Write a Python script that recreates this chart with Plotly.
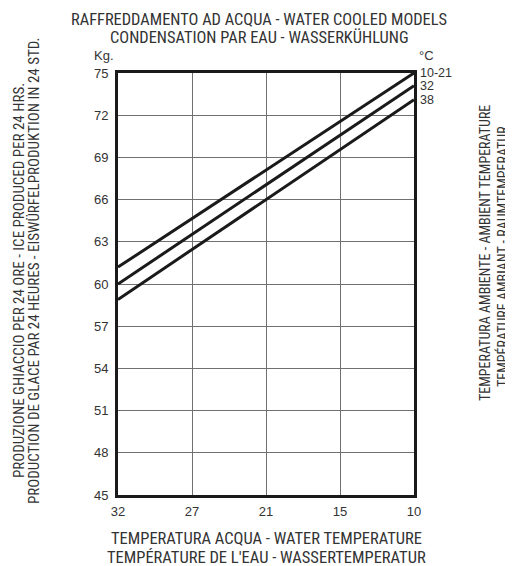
import plotly.graph_objects as go

# water temperature (°C), equally spaced on the chart, reading left to right
water_temp_labels = ["32", "27", "21", "15", "10"]
water_temp_pos = [0, 1, 2, 3, 4]

# ice production (kg / 24h) at the ends of each line (water 32 -> water 10)
line_x = [0, 4]
ice_10_21 = [61.2, 75.0]
ice_32 = [60.0, 74.1]
ice_38 = [58.9, 73.1]

ambient_labels = ["10-21", "32", "38"]
y_ticks = [45, 48, 51, 54, 57, 60, 63, 66, 69, 72, 75]

narrow = "Liberation Sans Narrow, Roboto Condensed, DejaVu Sans Condensed, Arial Narrow, Liberation Sans, sans-serif"
regular = "Liberation Sans, Arial, sans-serif"

# page body has an 8px margin, so the figure is a bit smaller than the window
L, R, T, B, W, H = 110, 99, 65, 71, 505, 558
PW, PH = W - L - R, H - T - B


def px(x):
    return (x - L) / PW


def py(y):
    return 1 - (y - T) / PH


fig = go.Figure()
for ys, name in zip([ice_10_21, ice_32, ice_38], ambient_labels):
    fig.add_scatter(x=line_x, y=ys, mode="lines", name=name,
                    line=dict(color="#1a1a1a", width=3), showlegend=False)
    fig.add_annotation(x=line_x[-1], y=ys[-1], text=name, showarrow=False,
                       xanchor="left", yanchor="middle", xshift=4,
                       font=dict(family=regular, size=12.5, color="#333"))

fig.update_xaxes(range=[0, 4], tickvals=water_temp_pos, ticktext=water_temp_labels,
                 showgrid=True, gridcolor="#707070", gridwidth=1,
                 showline=True, linecolor="#1a1a1a", linewidth=3, mirror=True,
                 zeroline=False, ticks="", ticklabelstandoff=2,
                 tickfont=dict(family=regular, size=13, color="#333"))
fig.update_yaxes(range=[45, 75], tickvals=y_ticks,
                 showgrid=True, gridcolor="#707070", gridwidth=1,
                 showline=True, linecolor="#1a1a1a", linewidth=3, mirror=True,
                 zeroline=False, ticks="", ticklabelstandoff=4,
                 tickfont=dict(family=regular, size=13, color="#333"))

title_font = dict(family=narrow, size=16.4, color="#333")
bottom_font = dict(family=narrow, size=16.5, color="#333")
left_font = dict(family=narrow, size=15, color="#333")
right_font = dict(family=narrow, size=14, color="#333")

texts = [
    (251, 11, 0, "RAFFREDDAMENTO AD ACQUA - WATER COOLED MODELS", title_font),
    (251, 29, 0, "CONDENSATION PAR EAU - WASSERKÜHLUNG", title_font),
    (258, 530, 0, "TEMPERATURA ACQUA - WATER TEMPERATURE", bottom_font),
    (258, 549, 0, "TEMPÉRATURE DE L'EAU - WASSERTEMPERATUR", bottom_font),
    (96, 48, 0, "Kg.", dict(family=regular, size=13, color="#333")),
    (418, 48, 0, "°C", dict(family=regular, size=13, color="#333")),
    (11, 273, -90, "PRODUZIONE GHIACCIO PER 24 ORE - ICE PRODUCED PER 24 HRS.", left_font),
    (26, 263, -90, "PRODUCTION DE GLACE PAR 24 HEURES - EISWÜRFELPRODUKTION IN 24 STD.", left_font),
    (477, 245, -90, "TEMPERATURA AMBIENTE - AMBIENT TEMPERATURE", right_font),
    (494, 249, -90, "TEMPÉRATURE AMBIANT - RAUMTEMPERATUR", right_font),
]
for x_, y_, ang, t, f in texts:
    fig.add_annotation(xref="paper", yref="paper", x=px(x_), y=py(y_),
                       text=t, textangle=ang, font=f, showarrow=False,
                       xanchor="center", yanchor="middle")

fig.update_layout(width=W, height=H,
                  margin=dict(l=L, r=R, t=T, b=B),
                  paper_bgcolor="white", plot_bgcolor="white")

fig.write_html("out.html")
